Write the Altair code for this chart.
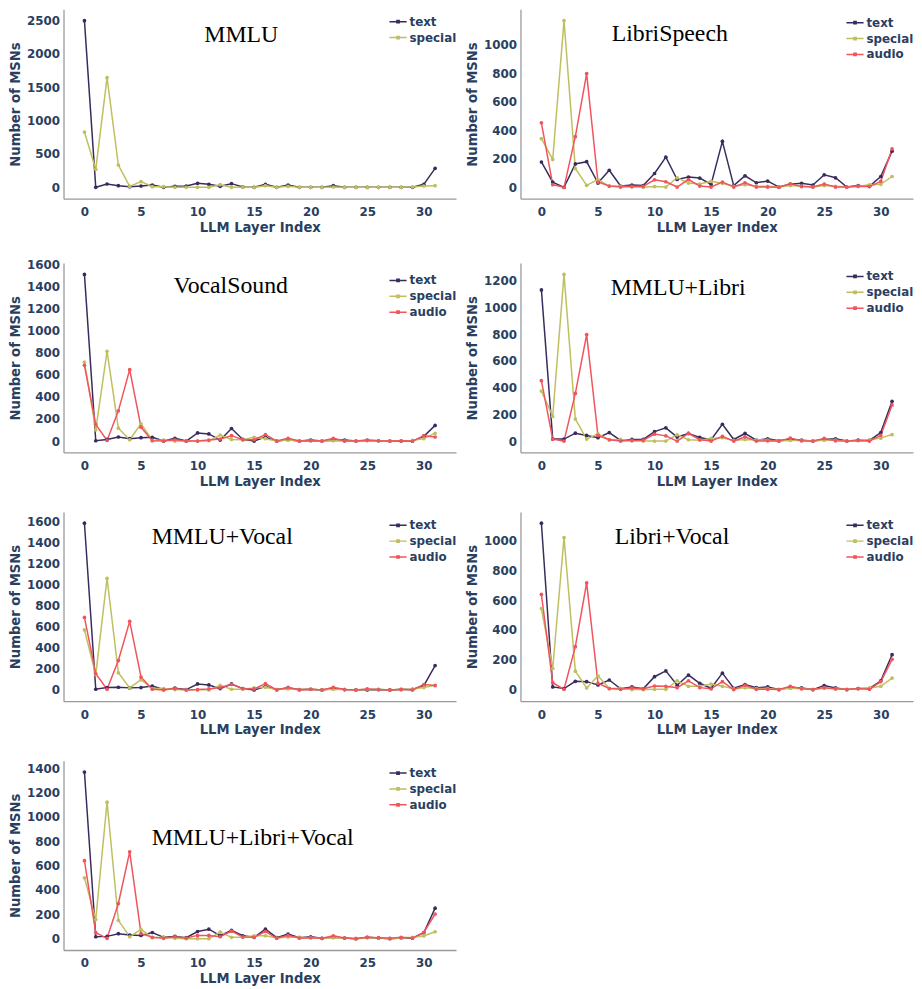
import altair as alt
import pandas as pd

layers = list(range(32))
series = ["text", "special", "audio"]
colors = ["#3a2b5e", "#c0bf5f", "#f0545c"]
x_ticks = [0, 5, 10, 15, 20, 25, 30]

panel_names = ["MMLU", "LibriSpeech", "VocalSound", "MMLU+Libri",
               "MMLU+Vocal", "Libri+Vocal", "MMLU+Libri+Vocal"]

mmlu_text = [2500, 0, 50, 25, 10, 20, 35, 0, 15, 20, 60, 45, 15, 55, 5, 0, 45, 0, 35, 0, 0, 0, 25, 0, 0, 0, 0, 0, 0, 0, 45, 285]
mmlu_special = [830, 270, 1645, 335, 15, 85, 10, 10, 0, 0, 0, 0, 40, 0, 0, 0, 25, 0, 15, 0, 0, 0, 5, 0, 0, 0, 0, 0, 0, 5, 20, 25]

libri_text = [178, 37, 0, 164, 180, 30, 120, 9, 16, 12, 97, 212, 55, 72, 65, 21, 323, 12, 81, 32, 44, 2, 21, 28, 16, 88, 67, 2, 12, 7, 76, 254]
libri_special = [342, 196, 1171, 132, 14, 55, 7, 9, 2, 0, 5, 2, 67, 30, 23, 42, 28, 7, 18, 7, 7, 2, 12, 9, 2, 12, 7, 2, 7, 18, 21, 76]
libri_audio = [453, 18, 0, 356, 799, 37, 9, 2, 7, 7, 53, 39, 2, 55, 9, 2, 37, 2, 32, 2, 2, 0, 25, 5, 2, 23, 2, 2, 7, 5, 42, 270]

vocal_text = [1510, 3, 15, 37, 22, 31, 34, 0, 25, 0, 74, 65, 9, 114, 15, 0, 37, 0, 12, 0, 9, 0, 9, 9, 0, 6, 3, 0, 0, 0, 43, 142]
vocal_special = [715, 102, 814, 117, 12, 157, 6, 9, 0, 0, 0, 3, 55, 15, 12, 34, 22, 0, 9, 0, 3, 0, 3, 0, 0, 6, 3, 0, 3, 6, 22, 71]
vocal_audio = [687, 151, 6, 274, 647, 126, 3, 0, 12, 0, 0, 9, 18, 49, 12, 12, 59, 0, 25, 0, 3, 0, 25, 0, 0, 9, 3, 0, 3, 0, 49, 37]

ml_text = [1133, 15, 15, 59, 42, 25, 64, 5, 12, 12, 71, 99, 30, 57, 27, 10, 126, 12, 57, 7, 17, 2, 15, 7, 0, 12, 17, 0, 7, 5, 64, 298]
ml_special = [375, 185, 1249, 165, 15, 54, 10, 12, 2, 0, 0, 0, 47, 10, 7, 20, 25, 5, 12, 10, 7, 0, 5, 5, 0, 7, 7, 0, 5, 10, 22, 49]
ml_audio = [453, 15, 0, 357, 798, 42, 10, 0, 5, 7, 52, 39, 0, 57, 10, 0, 35, 0, 32, 0, 2, 0, 22, 2, 0, 20, 2, 0, 5, 0, 42, 271]

mv_text = [1581, 6, 22, 25, 19, 22, 37, 3, 16, 3, 56, 47, 12, 56, 12, 0, 31, 3, 19, 3, 6, 0, 12, 3, 0, 0, 3, 0, 3, 3, 41, 231]
mv_special = [569, 144, 1059, 162, 19, 97, 12, 12, 3, 0, 0, 0, 44, 6, 6, 19, 25, 3, 9, 3, 6, 0, 6, 3, 0, 6, 6, 0, 6, 9, 22, 44]
mv_audio = [687, 153, 6, 278, 650, 122, 6, 0, 12, 0, 3, 9, 22, 53, 12, 9, 59, 0, 25, 0, 6, 0, 25, 3, 0, 9, 3, 0, 6, 0, 50, 41]

lv_text = [1114, 20, 9, 57, 55, 33, 66, 7, 20, 7, 88, 127, 31, 99, 44, 11, 112, 11, 35, 15, 20, 2, 15, 13, 2, 29, 13, 2, 9, 9, 61, 235]
lv_special = [544, 143, 1018, 125, 13, 94, 9, 11, 2, 2, 4, 4, 61, 24, 24, 39, 24, 7, 15, 9, 9, 2, 11, 9, 2, 11, 7, 4, 7, 13, 24, 79]
lv_audio = [638, 48, 4, 289, 715, 44, 9, 4, 13, 7, 26, 24, 15, 61, 15, 7, 55, 2, 31, 4, 4, 2, 24, 7, 2, 15, 7, 2, 9, 4, 55, 204]

mlv_text = [1370, 16, 19, 41, 30, 27, 51, 11, 19, 8, 59, 78, 24, 68, 24, 11, 78, 8, 38, 8, 16, 3, 11, 5, 0, 11, 5, 0, 5, 5, 49, 251]
mlv_special = [500, 157, 1122, 151, 16, 76, 8, 11, 3, 0, 0, 0, 54, 11, 11, 24, 24, 5, 14, 11, 8, 3, 8, 5, 0, 8, 5, 0, 5, 11, 22, 57]
mlv_audio = [641, 49, 3, 289, 714, 43, 11, 3, 16, 5, 27, 27, 16, 62, 14, 11, 59, 3, 27, 5, 8, 3, 24, 5, 0, 11, 8, 3, 11, 5, 51, 203]

panel_series = [
    {"text": mmlu_text, "special": mmlu_special},
    {"text": libri_text, "special": libri_special, "audio": libri_audio},
    {"text": vocal_text, "special": vocal_special, "audio": vocal_audio},
    {"text": ml_text, "special": ml_special, "audio": ml_audio},
    {"text": mv_text, "special": mv_special, "audio": mv_audio},
    {"text": lv_text, "special": lv_special, "audio": lv_audio},
    {"text": mlv_text, "special": mlv_special, "audio": mlv_audio},
]

# y tick labels per panel: (step, max)
y_tick_step = [500, 200, 200, 200, 200, 200, 200]
y_tick_max = [2500, 1000, 1600, 1200, 1600, 1000, 1400]

# layout (not data): title text position and legend top inside each panel
W, H = 396, 191
title_xy = [(142, 33), (92, 32), (111, 30), (91, 32), (89, 32), (95, 32), (89, 85)]
legend_top = [3, 4, 8, 4, 4, 4, 3]

LEG_PATH = "M-1,0L1,0M-0.13,-0.13L0.13,-0.13L0.13,0.13L-0.13,0.13Z"


def make_panel(k):
    data = panel_series[k]
    present = [s for s in series if s in data]
    rows = []
    for s in present:
        for i, v in zip(layers, data[s]):
            rows.append({"layer": i, "value": v, "type": s})
    df = pd.DataFrame(rows)
    ymax = max(max(v) for v in data.values())
    pad = 0.068 * ymax
    ticks = list(range(0, y_tick_max[k] + 1, y_tick_step[k]))
    lines = alt.Chart(df).mark_line(
        strokeWidth=1.5,
        point=alt.OverlayMarkDef(filled=True, size=14),
    ).encode(
        x=alt.X("layer:Q",
                scale=alt.Scale(domain=[-1.85, 32.85], nice=False, zero=False),
                axis=alt.Axis(values=x_ticks, title="LLM Layer Index", format="d")),
        y=alt.Y("value:Q",
                scale=alt.Scale(domain=[-pad, ymax + pad], nice=False, zero=False),
                axis=alt.Axis(values=ticks, title="Number of MSNs", format="d")),
        color=alt.Color("type:N",
                        scale=alt.Scale(domain=present, range=colors[:len(present)]),
                        legend=alt.Legend(title=None, orient="none",
                                          legendX=W - 68, legendY=legend_top[k],
                                          symbolType=LEG_PATH, symbolSize=300)),
    )
    tx, ty = title_xy[k]
    title = alt.Chart(pd.DataFrame({"t": [panel_names[k]]})).mark_text(
        font="Liberation Serif", fontSize=24, align="left", baseline="alphabetic",
        color="black",
    ).encode(text="t:N", x=alt.value(tx), y=alt.value(ty))
    return alt.layer(lines, title).properties(width=W, height=H)


chart = alt.concat(
    *[make_panel(k) for k in range(7)],
    columns=2,
    spacing={"row": 24, "column": 8},
).resolve_scale(
    color="independent", x="independent", y="independent"
).resolve_legend(
    color="independent"
).properties(
    padding={"top": -3, "left": 0, "right": 0, "bottom": 0}
).configure_view(
    stroke=None
).configure_axis(
    grid=False, ticks=False, tickSize=0,
    domainColor="#9a9a9a", domainWidth=1.3,
    labelFont="DejaVu Sans", labelFontWeight="bold", labelFontSize=12,
    labelColor="#2a3f5f",
    titleFont="DejaVu Sans", titleFontWeight="bold", titleFontSize=13.3,
    titleColor="#2a3f5f",
).configure_axisX(
    labelPadding=8, titlePadding=3,
).configure_axisY(
    labelPadding=4, titlePadding=4,
).configure_legend(
    labelFont="DejaVu Sans", labelFontWeight="bold", labelFontSize=12,
    labelColor="#2a3f5f", padding=0, symbolStrokeWidth=1.5, labelOffset=2,
    rowPadding=-1,
)

chart.save("out.html", embed_options={"renderer": "svg", "actions": False})
